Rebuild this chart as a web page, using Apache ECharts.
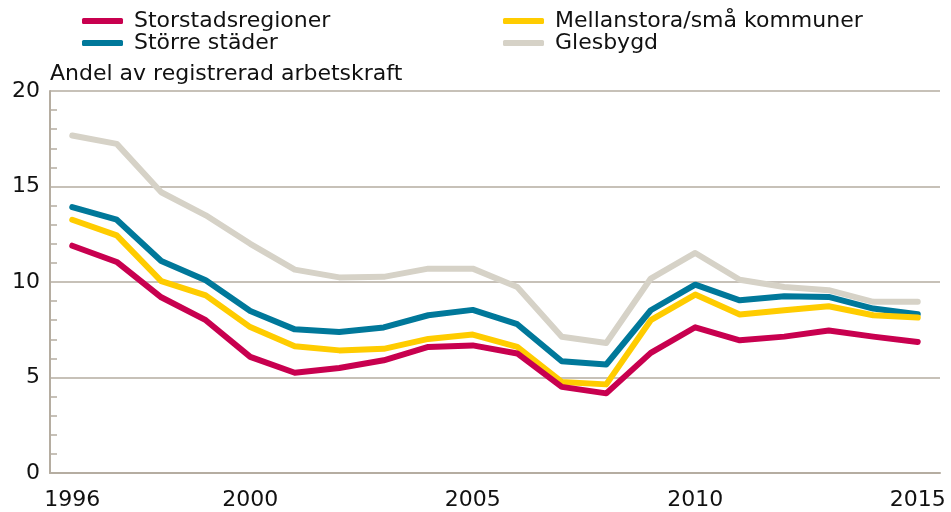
<!DOCTYPE html>
<html>
<head>
<meta charset="utf-8">
<script src="https://cdn.jsdelivr.net/npm/echarts@6/dist/echarts.min.js"></script>
<style>
  html, body { margin: 0; padding: 0; background: #fff; }
  #chart { width: 951px; height: 512px; }
</style>
</head>
<body>
<div id="chart"></div>
<script>
// år på x-axeln
var years = ['1996','1997','1998','1999','2000','2001','2002','2003','2004','2005',
             '2006','2007','2008','2009','2010','2011','2012','2013','2014','2015'];
var shownYears = ['1996','2000','2005','2010','2015'];

// andel av registrerad arbetskraft, procent
var storstad    = [11.9, 11.05, 9.2, 8.0, 6.08, 5.25, 5.5, 5.9, 6.6, 6.68, 6.26, 4.51, 4.17, 6.29, 7.63, 6.95, 7.14, 7.46, 7.14, 6.86];
var mellanstora = [13.26, 12.44, 10.05, 9.3, 7.64, 6.64, 6.42, 6.5, 7.02, 7.25, 6.6, 4.77, 4.64, 8.0, 9.34, 8.3, 8.52, 8.73, 8.26, 8.14];
var storre      = [13.92, 13.26, 11.1, 10.09, 8.48, 7.52, 7.38, 7.62, 8.26, 8.54, 7.79, 5.85, 5.68, 8.52, 9.86, 9.04, 9.25, 9.22, 8.61, 8.31];
var glesbygd    = [17.67, 17.23, 14.7, 13.49, 12.0, 10.65, 10.24, 10.27, 10.7, 10.7, 9.74, 7.13, 6.81, 10.18, 11.52, 10.12, 9.74, 9.57, 8.96, 8.96];

var yTicks = [0, 5, 10, 15, 20];

var axisGray = '#b5ada1';
var font = 'DejaVu Sans, Liberation Sans, sans-serif';
var fs = 22;

var chart = echarts.init(document.getElementById('chart'));

function serie(name, data, color, z) {
    return {
        name: name,
        type: 'line',
        data: data,
        z: z,
        symbol: 'none',
        smooth: false,
        lineStyle: { width: 6, color: color, cap: 'round', join: 'round' },
        itemStyle: { color: color }
    };
}

var legendBase = {
    orient: 'vertical',
    top: 10,
    padding: 0,
    icon: 'roundRect',
    itemWidth: 41,
    itemHeight: 6,
    itemGap: 0,
    textStyle: { fontFamily: font, fontSize: fs, color: '#111', padding: [0, 0, 0, 6] }
};

chart.setOption({
    animation: false,
    title: {
        text: 'Andel av registrerad arbetskraft',
        left: 45,
        top: 58,
        textStyle: { fontFamily: font, fontSize: fs, fontWeight: 'normal', color: '#111' }
    },
    legend: [
        Object.assign({}, legendBase, { left: 82, data: ['Storstadsregioner', 'Större städer'] }),
        Object.assign({}, legendBase, { left: 503, data: ['Mellanstora/små kommuner', 'Glesbygd'] })
    ],
    grid: { left: 50, right: 11, top: 91, bottom: 39 },
    xAxis: {
        type: 'category',
        data: years,
        boundaryGap: true,
        axisLine: { show: true, lineStyle: { color: axisGray, width: 2 } },
        axisTick: { show: false },
        axisLabel: {
            interval: function (i, v) { return shownYears.indexOf(v) >= 0; },
            fontFamily: font, fontSize: fs, color: '#111', margin: 16
        }
    },
    yAxis: {
        type: 'value',
        min: yTicks[0],
        max: yTicks[yTicks.length - 1],
        interval: 5,
        axisLine: { show: true, lineStyle: { color: axisGray, width: 2 } },
        axisTick: { show: false, inside: true },
        minorTick: { show: true, splitNumber: 5, length: 7, lineStyle: { color: axisGray, width: 1.5 } },
        splitLine: { show: true, lineStyle: { color: axisGray, width: 1.5 } },
        axisLabel: { fontFamily: font, fontSize: fs, color: '#111', margin: 10 }
    },
    series: [
        serie('Glesbygd', glesbygd, '#d6d2c7', 2),
        serie('Större städer', storre, '#00789a', 3),
        serie('Mellanstora/små kommuner', mellanstora, '#ffcc00', 4),
        serie('Storstadsregioner', storstad, '#c8004f', 5)
    ]
});
</script>
</body>
</html>
